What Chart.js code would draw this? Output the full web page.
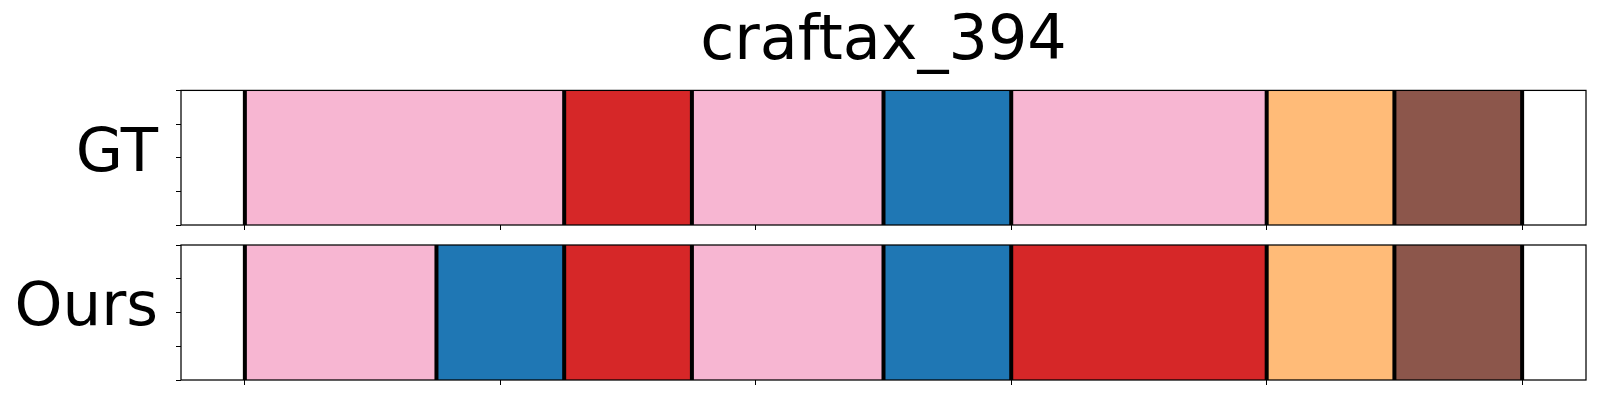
<!DOCTYPE html>
<html>
<head>
<meta charset="utf-8">
<script src="https://cdn.jsdelivr.net/npm/chart.js@4.4.0/dist/chart.umd.min.js"></script>
<style>
  body { margin: 0; background: #fff; }
  .panel { position: absolute; left: 0; width: 1600px; }
</style>
</head>
<body>
<div class="panel" style="top:0;height:232px"><canvas id="gtChart" width="1600" height="232"></canvas></div>
<div class="panel" style="top:232px;height:168px"><canvas id="oursChart" width="1600" height="168"></canvas></div>
<script>
// segment data: duration of each segment and its class id (tab20 index)
const chartTitle = 'craftax_394';
const rowLabels = ['GT', 'Ours'];
const gtLengths = [5, 2, 3, 2, 4, 2, 2];
const gtClasses = [13, 6, 13, 0, 13, 3, 10];
const oursLengths = [3, 2, 2, 3, 2, 4, 2, 2];
const oursClasses = [13, 0, 6, 13, 0, 6, 3, 10];
const xTicks = [0, 4, 8, 12, 16, 20];
const yTicks = [0, 0.25, 0.5, 0.75, 1];
const xMin = -1, xMax = 21;

const tab20 = {
  0: '#1f77b4', 3: '#ffbb78', 6: '#d62728', 10: '#8c564b', 13: '#f7b6d2'
};

const framePlugin = {
  id: 'frame',
  afterDraw(chart) {
    const { ctx, chartArea: a } = chart;
    ctx.save();
    ctx.strokeStyle = '#000';
    ctx.lineWidth = 1.25;
    ctx.strokeRect(a.left, a.top, a.right - a.left, a.bottom - a.top);
    ctx.restore();
  }
};

function makeChart(id, label, lengths, classes, withTitle, pad) {
  const segs = [];
  const bounds = [0];
  let t = 0;
  lengths.forEach(len => {
    segs.push({ x: [t, t + len], y: label });
    t += len;
    bounds.push(t);
  });

  const datasets = [{
    type: 'bar',
    indexAxis: 'y',
    data: segs,
    backgroundColor: classes.map(c => tab20[c]),
    barPercentage: 1,
    categoryPercentage: 1,
    xAxisID: 'x',
    yAxisID: 'y',
    order: 1
  }];
  bounds.forEach(b => {
    datasets.push({
      type: 'line',
      data: [{ x: b, y: 0 }, { x: b, y: 1 }],
      borderColor: '#000',
      borderWidth: 4,
      pointRadius: 0,
      xAxisID: 'x',
      yAxisID: 'y2',
      order: 0
    });
  });

  return new Chart(document.getElementById(id), {
    type: 'bar',
    data: { labels: [label], datasets },
    options: {
      responsive: false,
      animation: false,
      layout: { padding: { left: 0, right: 14, top: pad.top, bottom: pad.bottom } },
      plugins: {
        legend: { display: false },
        tooltip: { enabled: false },
        title: {
          display: withTitle,
          fullSize: false,
          text: chartTitle,
          color: '#000',
          font: { family: 'DejaVu Sans', size: 62, weight: 'normal' },
          padding: { top: 6, bottom: 10 }
        }
      },
      scales: {
        x: {
          type: 'linear',
          min: xMin,
          max: xMax,
          offset: false,
          afterBuildTicks: s => { s.ticks = xTicks.map(v => ({ value: v })); },
          ticks: { display: false },
          border: { display: false },
          grid: { offset: false, drawOnChartArea: false, drawTicks: true, tickLength: 5, color: '#000', lineWidth: 1 }
        },
        y: {
          type: 'category',
          position: 'left',
          weight: 1,
          offset: true,
          afterFit: s => { s.width = 176; s.paddingTop = 0; s.paddingBottom = 0; },
          ticks: {
            color: '#000',
            padding: 18,
            labelOffset: -3,
            font: { family: 'DejaVu Sans', size: 61 }
          },
          border: { display: false },
          grid: { display: false, drawTicks: false }
        },
        y2: {
          type: 'linear',
          position: 'left',
          weight: 0,
          min: 0,
          max: 1,
          offset: false,
          afterBuildTicks: s => { s.ticks = yTicks.map(v => ({ value: v })); },
          ticks: { display: false },
          border: { display: false },
          grid: { offset: false, drawOnChartArea: false, drawTicks: true, tickLength: 5, color: '#000', lineWidth: 1 }
        }
      }
    },
    plugins: [framePlugin]
  });
}

makeChart('gtChart', rowLabels[0], gtLengths, gtClasses, true, { top: 0, bottom: 2 });
makeChart('oursChart', rowLabels[1], oursLengths, oursClasses, false, { top: 13, bottom: 15 });
</script>
</body>
</html>
